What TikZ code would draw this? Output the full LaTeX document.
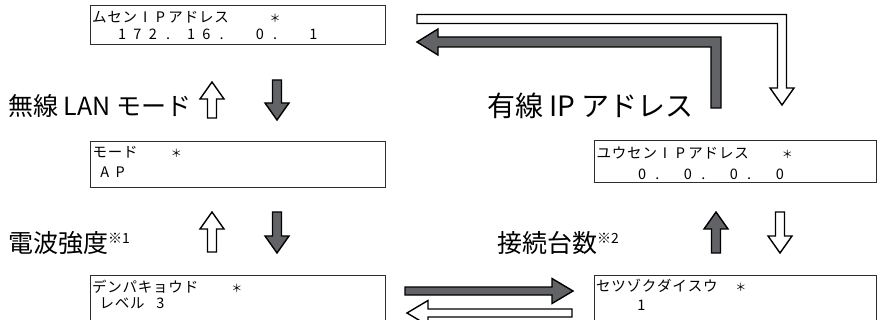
\documentclass[tikz,border=0pt]{standalone}
\usepackage{fontspec}
\setmainfont{Noto Sans CJK JP}
\newfontfamily\lcdfont{Noto Sans CJK JP}
\newlength\cw \setlength\cw{15.3pt}
\def\lcd#1{\lcdA#1\relax}
\def\lcdA#1{\ifx\relax#1\else\ifx!#1\hspace*{0.5\cw}\else\makebox[\cw][c]{#1}\fi\expandafter\lcdA\fi}
\newcommand\lcdstar{{\fontsize{11}{11}\selectfont ＊}}
\definecolor{arrgray}{RGB}{98,99,102}
\definecolor{boxline}{RGB}{45,45,45}
\tikzset{
  lcdbox/.style={draw=boxline, line width=1.1pt, anchor=north west, inner sep=0, minimum width=#1},
  lcdline/.style={anchor=west, inner sep=0, font=\lcdfont\fontsize{14.5}{14.5}\selectfont},
  lbl/.style={anchor=west, inner sep=0, font=\fontsize{25}{25}\selectfont},
  barrow/.style={draw=black, line width=1.4pt, line join=miter},
}
\newcommand\note[1]{\raisebox{9pt}{\fontsize{14}{14}\selectfont #1}}
\newcommand\varrow[4]{\pgfmathsetmacro\hb{#3+((#3>#2)?-17:17)}%
  \filldraw[barrow,fill=#4] (#1-4.5,#2) -- (#1-4.5,\hb) -- (#1-12,\hb) -- (#1,#3) -- (#1+12,\hb) -- (#1+4.5,\hb) -- (#1+4.5,#2) -- cycle;}
\newcommand\harrow[4]{\pgfmathsetmacro\hb{#3+((#3>#2)?-21:21)}%
  \filldraw[barrow,fill=#4] (#2,#1-4) -- (\hb,#1-4) -- (\hb,#1-12.5) -- (#3,#1) -- (\hb,#1+12.5) -- (\hb,#1+4) -- (#2,#1+4) -- cycle;}
\begin{document}
\begin{tikzpicture}[x=1pt,y=-1pt]
\useasboundingbox (0,0) rectangle (877,320);
% boxes
\node[lcdbox=295pt, minimum height=39pt] (b1) at (90,5) {};
\node[lcdbox=295pt, minimum height=46pt] (b2) at (90,141) {};
\node[lcdbox=295pt, minimum height=47pt] (b3) at (90,275) {};
\node[lcdbox=282pt, minimum height=42pt] (b4) at (594,140) {};
\node[lcdbox=282pt, minimum height=47pt] (b5) at (594,275) {};
% box texts
\node[lcdline] (t1a) at (91.4,17) {\lcd{ムセンIPアドレス~~!\lcdstar}};
\node[lcdline] (t1b) at (91.4,34.5) {\lcd{~!172.!16.~!0.~!1}};
\node[lcdline] (t2a) at (92,152.5) {\lcd{モード~~\lcdstar}};
\node[lcdline] (t2b) at (97,172) {\lcd{AP}};
\node[lcdline] (t3a) at (91.4,286.5) {\lcd{デンパキョウド~~\lcdstar}};
\node[lcdline] (t3b) at (91.4,303.5) {\lcd{!レベル!3}};
\node[lcdline] (t4a) at (596,153) {\lcd{ユウセンIPアドレス~~\lcdstar}};
\node[lcdline] (t4b) at (596,174.5) {\lcd{!~~0.~0.~0.~0}};
\node[lcdline] (t5a) at (595.4,286) {\lcd{セツゾクダイスウ~\lcdstar}};
\node[lcdline] (t5b) at (595.4,305) {\lcd{~~!1}};
% labels
\node[lbl] (l1) at (8,106) {無線 LAN モード};
\node[lbl] (l2) at (8,243) {電波強度\note{※1}};
\node[lbl, font=\fontsize{28}{28}\selectfont] (l3) at (487,106) {有線 IP アドレス};
\node[lbl] (l4) at (497,243) {接続台数\note{※2}};
% vertical arrows
\varrow{212}{118}{82}{white}
\varrow{277}{80}{120}{arrgray}
\varrow{212}{252}{212}{white}
\varrow{277}{212}{253}{arrgray}
\varrow{716}{253}{212}{arrgray}
\varrow{780}{212}{253}{white}
% horizontal arrows
\harrow{291}{405}{573}{arrgray}
\harrow{313}{572}{407}{white}
% L-shaped arrows
\filldraw[barrow,fill=white] (417,14.5) -- (786.5,14.5) -- (786.5,88) -- (794,88) -- (782,105) -- (770,88) -- (777.5,88) -- (777.5,23.5) -- (417,23.5) -- cycle;
\filldraw[barrow,fill=arrgray] (721,108) -- (721,37) -- (438,37) -- (438,29) -- (417,42) -- (438,55) -- (438,47) -- (711,47) -- (711,108) -- cycle;
\end{tikzpicture}
\end{document}
